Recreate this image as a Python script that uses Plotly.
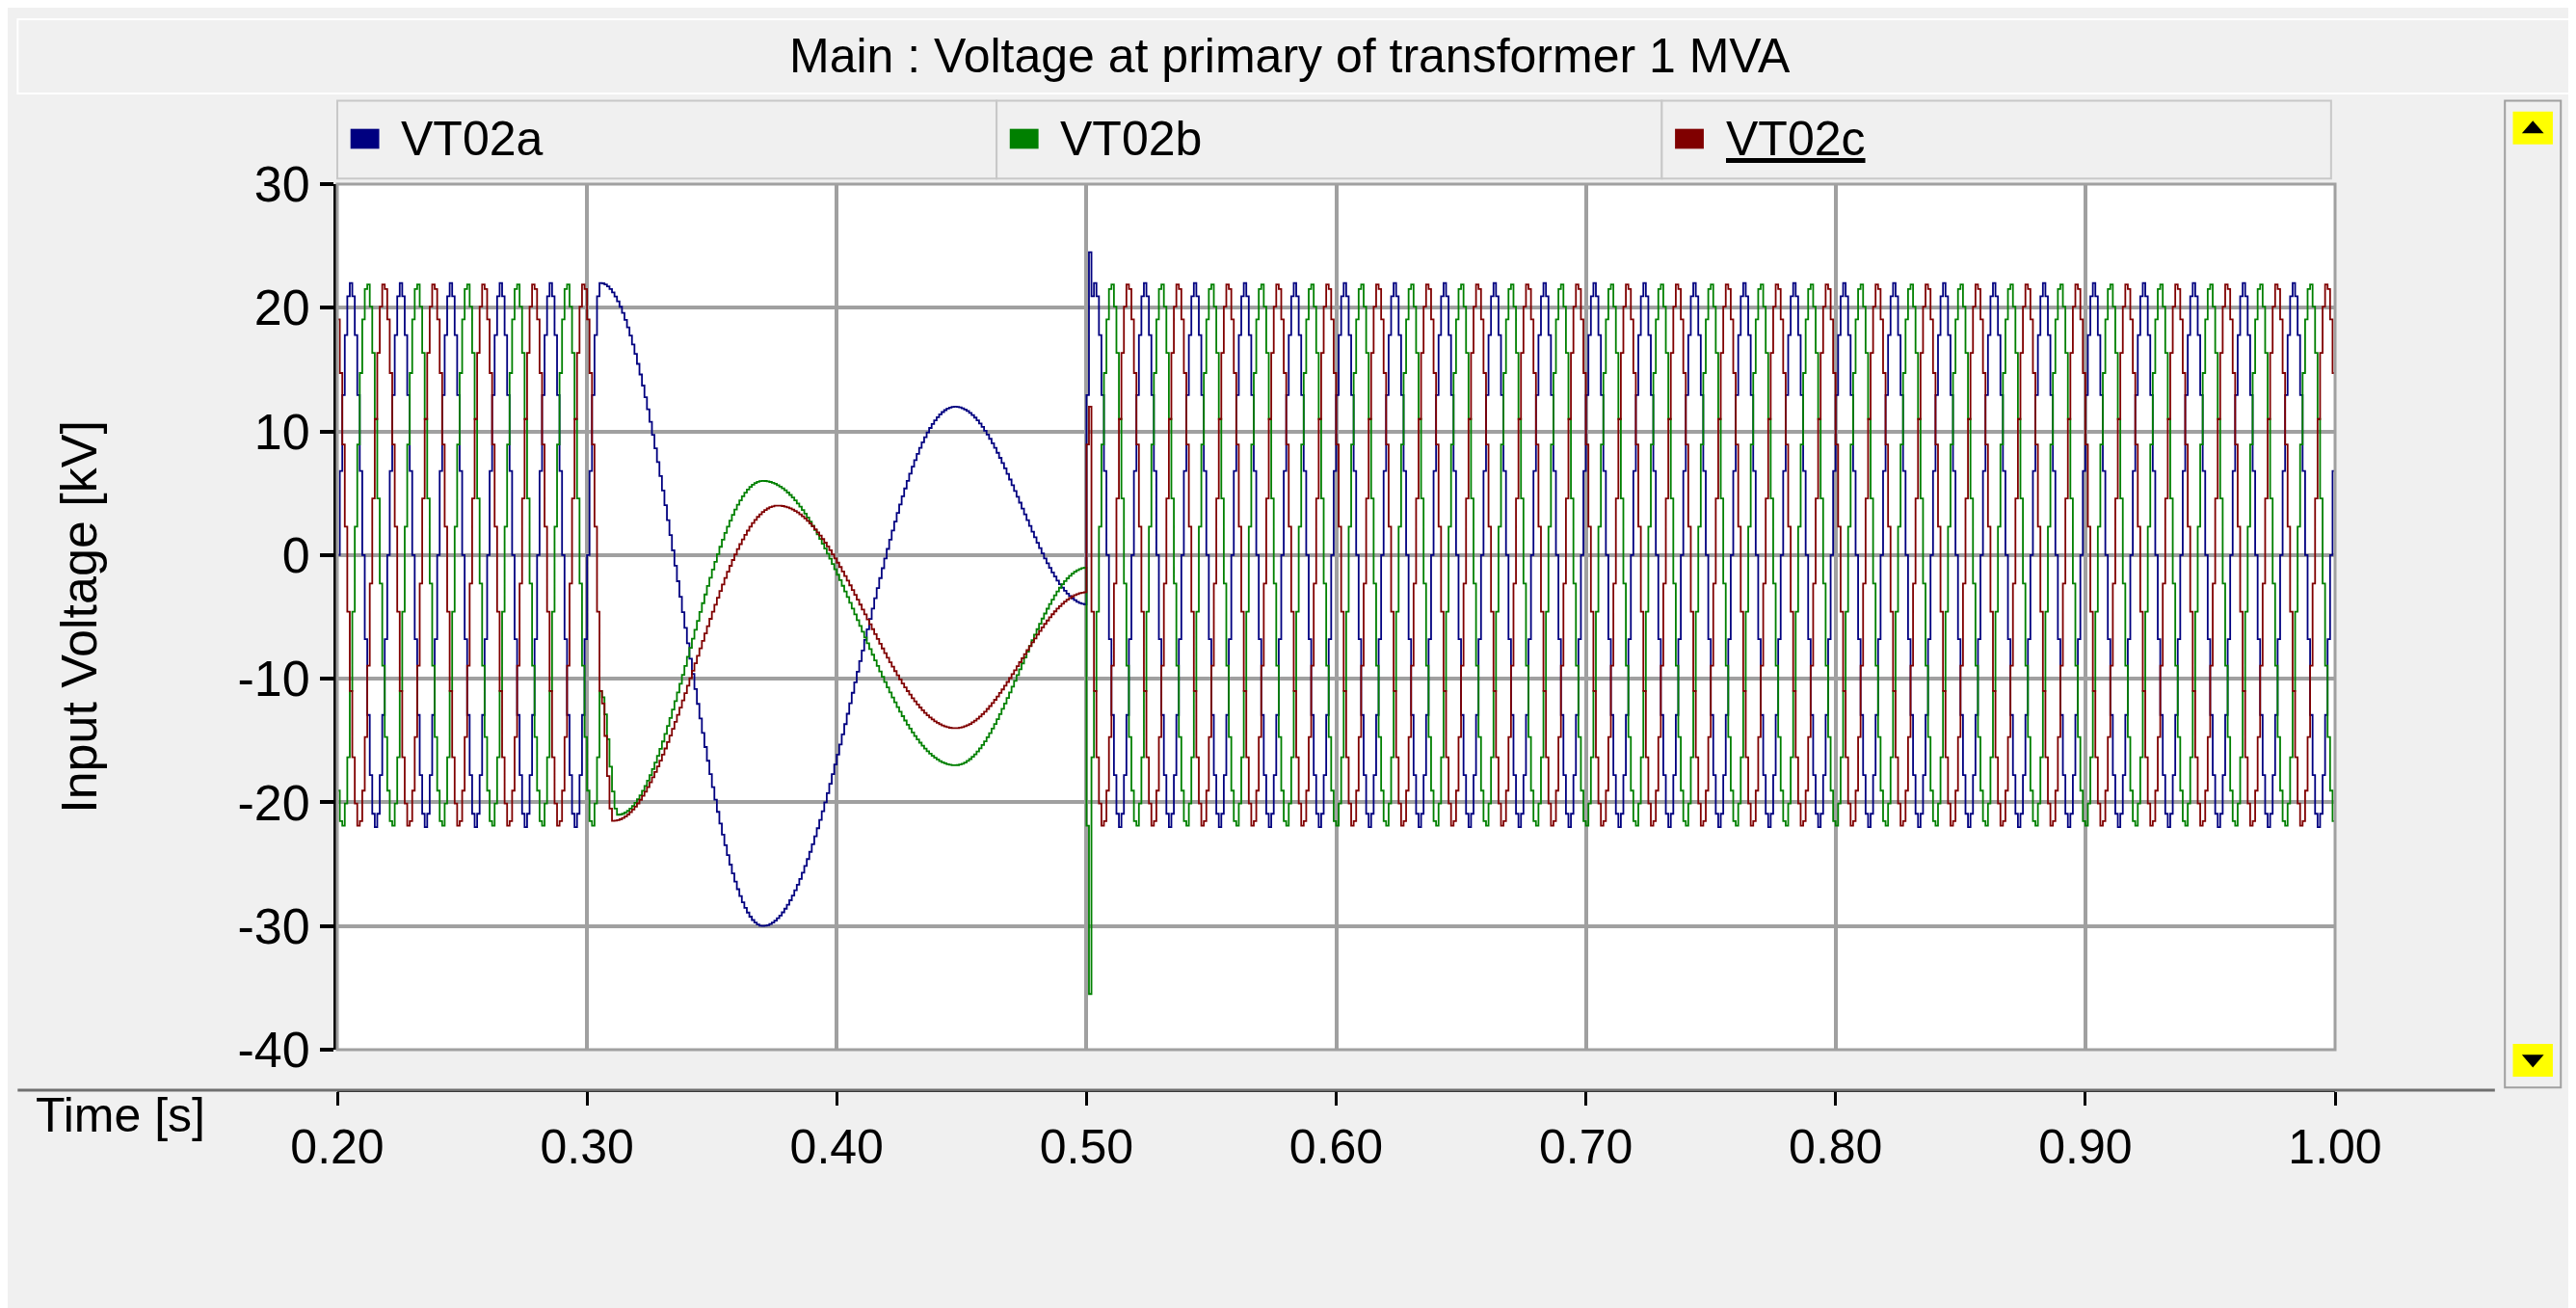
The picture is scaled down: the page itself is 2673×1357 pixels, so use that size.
import numpy as np
import plotly.graph_objects as go

# --- values ---
f_grid = 50.0            # Hz, before and after the disturbance
amp_grid = 22.0          # kV peak
t_peak_pre = 0.305       # blue peak before the fault (s)
t_peak_post = 0.503      # blue peak after clearing (s)
phase_shift = [0.0, -120.0, 120.0]   # a, b, c (deg)
names = ["VT02a", "VT02b", "VT02c"]
colors = ["#000080", "#008000", "#800000"]

# low-frequency swing between 0.305 s and 0.5 s (extrema)
swing_t = {
    "VT02a": [0.305, 0.370, 0.447, 0.500],
    "VT02b": [0.305, 0.312, 0.370, 0.447, 0.500],
    "VT02c": [0.305, 0.310, 0.376, 0.447, 0.500],
}
swing_v = {
    "VT02a": [22.0, -30.0, 12.0, -4.0],
    "VT02b": [-11.0, -21.0, 6.0, -17.0, -1.0],
    "VT02c": [-11.0, -21.5, 4.0, -14.0, -3.0],
}
# switching transient just after 0.5 s
spike_t = 0.501
spike_v = [24.5, -35.5, 12.0]

x_ticks = [0.2, 0.3, 0.4, 0.5, 0.6, 0.7, 0.8, 0.9, 1.0]
y_ticks = [-40, -30, -20, -10, 0, 10, 20, 30]

dt = 0.001
t = np.arange(0.2, 1.0 + dt / 2, dt)


def ease(tk, vk, tt):
    out = np.empty_like(tt)
    for i in range(len(tk) - 1):
        m = (tt >= tk[i]) & (tt <= tk[i + 1])
        s = (tt[m] - tk[i]) / (tk[i + 1] - tk[i])
        out[m] = vk[i] + (vk[i + 1] - vk[i]) * (1 - np.cos(np.pi * s)) / 2
    return out


fig = go.Figure()
for k, nm in enumerate(names):
    ph = np.deg2rad(phase_shift[k])
    y = np.empty_like(t)
    pre = t < t_peak_pre
    y[pre] = amp_grid * np.cos(2 * np.pi * f_grid * (t[pre] - t_peak_pre) + ph)
    mid = (t >= t_peak_pre) & (t <= 0.5)
    y[mid] = ease(swing_t[nm], swing_v[nm], t[mid])
    post = t > 0.5
    y[post] = amp_grid * np.cos(2 * np.pi * f_grid * (t[post] - t_peak_post) + ph)
    y[np.argmin(np.abs(t - spike_t))] = spike_v[k]
    fig.add_trace(go.Scatter(x=t, y=y, mode="lines", line_shape="hv",
                             line=dict(color=colors[k], width=1.8),
                             name=nm, showlegend=False))

# invisible trace that carries the detached time axis
fig.add_trace(go.Scatter(x=[0.2, 1.0], y=[0, 0], xaxis="x2", mode="markers",
                         marker=dict(opacity=0), showlegend=False, hoverinfo="skip"))

font = "Liberation Sans, Arial, sans-serif"
grid = "#a0a0a0"

shapes = []
ann = []
# title bar
shapes.append(dict(type="rect", xref="paper", yref="paper", x0=-0.16, x1=1.12,
                   y0=1.10, y1=1.182, fillcolor="#f0f0f0", line=dict(color="#ffffff", width=2)))
ann.append(dict(text="Main : Voltage at primary of transformer 1 MVA", x=0.477, y=1.141,
                xref="paper", yref="paper", yanchor="middle", showarrow=False,
                font=dict(size=50, color="black")))
# legend cells
cells = [0.0, 0.330, 0.663, 0.998]
for k, nm in enumerate(names):
    shapes.append(dict(type="rect", xref="paper", yref="paper", x0=cells[k], x1=cells[k + 1],
                       y0=1.006, y1=1.092, fillcolor="#f0f0f0",
                       line=dict(color="#c8c8c8", width=2)))
    shapes.append(dict(type="rect", xref="paper", yref="paper", x0=cells[k] + 0.0066,
                       x1=cells[k] + 0.021, y0=1.039, y1=1.061, fillcolor=colors[k],
                       line=dict(width=0)))
    txt = "<u>" + nm + "</u>" if k == 2 else nm
    ann.append(dict(text=txt, x=cells[k] + 0.031, y=1.05, xref="paper", yref="paper",
                    xanchor="left", yanchor="middle", showarrow=False,
                    font=dict(size=50, color="black")))
# plot frame
shapes.append(dict(type="rect", xref="paper", yref="y domain", x0=0, x1=1, y0=0, y1=1,
                   line=dict(color=grid, width=3)))
# separator above the time axis
shapes.append(dict(type="line", xref="paper", yref="paper", x0=-0.16, x1=1.08, y0=0, y1=0,
                   line=dict(color="#707070", width=3)))
# scrollbar with yellow arrow buttons
shapes.append(dict(type="rect", xref="paper", yref="paper", x0=1.085, x1=1.113, y0=0.003,
                   y1=1.092, fillcolor="#f0f0f0", line=dict(color="#a0a0a0", width=2)))
for yb, up in ((1.062, True), (0.033, False)):
    shapes.append(dict(type="rect", xref="paper", yref="paper", x0=1.089, x1=1.109,
                       y0=yb - 0.018, y1=yb + 0.018, fillcolor="#ffff00", line=dict(width=0)))
    tip, base = (yb + 0.008, yb - 0.006) if up else (yb - 0.008, yb + 0.006)
    shapes.append(dict(type="path", xref="paper", yref="paper",
                       path=f"M 1.0935,{base} L 1.1045,{base} L 1.099,{tip} Z",
                       fillcolor="black", line=dict(width=0)))
ann.append(dict(text="Time [s]", x=-0.152, y=-0.028, xref="paper", yref="paper",
                xanchor="left", yanchor="middle", showarrow=False, font=dict(size=50, color="black")))

fig.update_layout(
    width=2673, height=1357,
    margin=dict(l=342, r=258, t=183, b=234),
    paper_bgcolor="#f0f0f0", plot_bgcolor="#ffffff",
    font=dict(family=font, size=50, color="black"),
    shapes=shapes, annotations=ann,
    xaxis=dict(range=[0.2, 1.0], tickvals=x_ticks, showticklabels=False,
               showgrid=True, gridcolor=grid, gridwidth=4, zeroline=False, ticks=""),
    xaxis2=dict(range=[0.2, 1.0], tickvals=x_ticks, ticktext=[f"{v:.2f}" for v in x_ticks],
                anchor="free", position=0, overlaying="x", showgrid=False,
                showline=True, linecolor="black", linewidth=3,
                ticks="outside", ticklen=14, tickwidth=3, tickcolor="black",
                tickfont=dict(size=50)),
    yaxis=dict(range=[-40, 30], tickvals=y_ticks, ticktext=[str(v) for v in y_ticks],
               domain=[0.0447, 1],
               showgrid=True, gridcolor=grid, gridwidth=4, zeroline=False,
               showline=True, linecolor="black", linewidth=4,
               ticks="outside", ticklen=14, tickwidth=4, tickcolor="black",
               tickfont=dict(size=52),
               title=dict(text="Input Voltage [kV]", font=dict(size=52), standoff=130)),
)

fig.write_html("out.html")
